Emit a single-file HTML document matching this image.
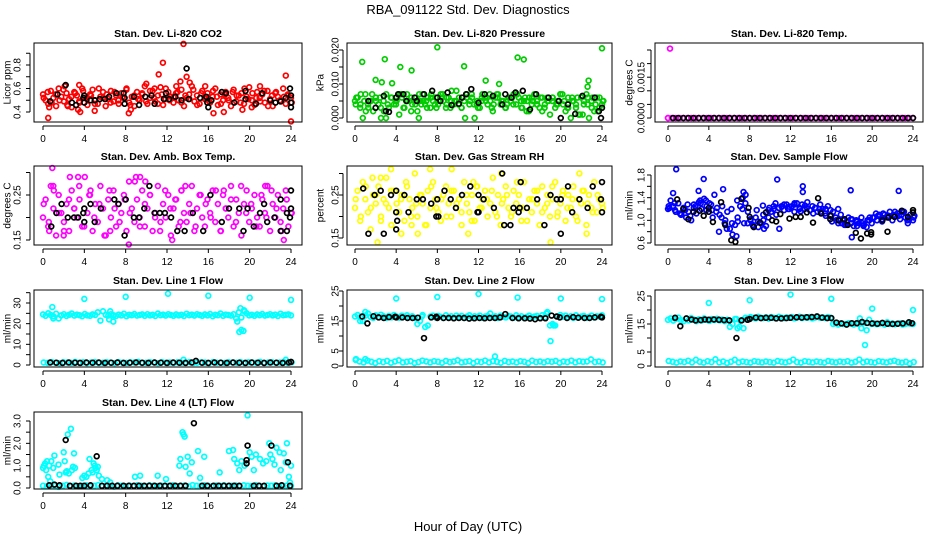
<!DOCTYPE html>
<html><head><meta charset="utf-8">
<style>
html,body{margin:0;padding:0;background:#fff;}
svg{display:block;font-family:"Liberation Sans",Arial,sans-serif;}
</style></head>
<body>
<svg id="chart" width="936" height="540" viewBox="0 0 936 540" xmlns="http://www.w3.org/2000/svg">
<rect width="936" height="540" fill="#fff"/>
<text x="468" y="14" text-anchor="middle" font-size="13">RBA_091122  Std. Dev. Diagnostics</text>
<text x="468" y="531" text-anchor="middle" font-size="13">Hour of Day (UTC)</text>
</svg>
<script>
// ---------- data ----------
const xTicks = [0,4,8,12,16,20,24];

const co2Red = [.55,.50,.47,.58,.52,.45,.60,.53,.49,.56,.51,.44,.57,.54,.48,.60,.52,.46,.55,.59,.50,.47,.53,.57,.45,.51,.58,.49,.54,.47,.56,.52,.60,.48,.53,.45,.57,.50,.55,.62,.47,.52,.58,.49,.54,.61,.46,.51,.57,.53,.48,.56,.50,.59,.45,.52,.55,.62,.49,.54,.47,.58,.51,.56,.48,.53,.60,.46,.55,.50,.57,.52,.45,.59,.49,.54,.56,.47,.53,.61,.50,.46,.57,.52,.55,.48,.58,.51,.45,.56,.53,.49,.60,.47,.54,.52];
const co2Red2 = [.52,.57,.48,.55,.50,.59,.46,.53,.56,.49,.58,.51,.54,.47,.60,.52,.55,.48,.57,.50,.53,.59,.46,.54,.51,.56,.49,.58,.52,.47,.55,.60,.50,.53,.57,.48,.54,.51,.59,.46,.56,.52,.49,.58,.53,.47,.55,.50,.57,.54,.48,.60,.51,.56,.52,.49,.58,.45,.54,.57,.50,.53,.55,.48];
const co2RedExtra = [[0.5,.35],[0.6,.44],[2.1,.62],[3.4,.42],[3.6,.40],[3.5,.63],[5.0,.41],[8.3,.39],[8.5,.42],[10.0,.64],[10.8,.60],[11.2,.72],[11.6,.82],[12.9,.62],[13.3,.66],[13.6,.98],[13.9,.70],[15.7,.62],[14.2,.65],[16.5,.39],[17.5,.40],[19.3,.42],[21.0,.62],[23.5,.71],[24.0,.32],[2.4,.45],[20.2,.44]];
const co2Black = [[0.7,.49],[1.4,.55],[2.2,.63],[2.8,.48],[3.2,.46],[3.9,.52],[4.0,.48],[4.0,.54],[4.6,.50],[5.0,.50],[5.5,.51],[6.0,.51],[6.4,.53],[7.1,.56],[7.8,.56],[7.9,.52],[7.9,.47],[8.8,.53],[9.3,.46],[9.9,.53],[10.5,.54],[10.8,.47],[11.7,.51],[11.9,.56],[12.2,.51],[12.8,.53],[13.4,.50],[13.9,.77],[14.1,.51],[15.2,.52],[15.8,.53],[15.9,.48],[16.0,.44],[16.3,.50],[17.3,.57],[17.7,.56],[18.5,.48],[19.6,.58],[19.6,.51],[20.6,.47],[21.2,.56],[22.0,.50],[22.5,.48],[23.0,.49],[23.5,.52],[23.9,.60],[24.0,.54],[24.0,.48],[24.0,.44]];

// pressure in units of 0.001 kPa
const presGreen = [5,6,3,0,7,4,5,2,6,4,0,5,7,3,6,4,5,1,6,3,7,5,4,6,2,5,7,4,6,3,5,6,4,7,5,3,6,5,4,8,6,3,5,7,4,6,0,5,3,7,6,4,5,2,6,7,4,5,3,6,5,7,4,6,3,5,2,6,4,7,5,3,6,4,5,1,6,3,5,7,4,2,6,0,5,3,1,6,4,7,0,5,2,6,3,4];
const presGreen2 = [4,7,2,5,6,3,0,6,4,7,5,2,6,4,5,7,3,6,4,8,5,3,6,7,4,5,6,3,7,5,4,6,7,3,5,6,4,2,6,5,4,7,3,5,6,1,4,6,2,5];
const presGreen3 = [6,4,5,3,7,5,6,2,4,6,5,7,3,5,6,4,7,5,3,6,4,5,7,6,3,5,4,6,7,5,4,3,6,5,7,4,6,5,3,6,4,7,5,6,2,5,4,6,3,5,6,4,7,5,3,6,4,1,5,6,3,4,6,5];
const presGreenExtra = [[0.7,16.5],[2.0,11.2],[2.9,17.3],[2.6,10.5],[4.4,15.0],[5.5,14.0],[3.6,10.2],[8.0,20.8],[10.6,15.2],[12.7,11.0],[14.0,10.0],[15.8,17.8],[16.4,17.2],[22.6,9.2],[22.7,11.0],[24.0,20.5],[6.2,0],[10.7,0]];
const presBlack = [[1.3,5],[2.0,3],[2.8,6.5],[3.3,1.8],[3.0,2],[4.0,6],[4.2,7],[4.7,7],[5.0,5],[5.8,6],[6.0,5],[6.7,7],[7.5,8],[8.0,6],[8.3,5],[9.0,7.5],[9.4,3.8],[10.1,4.2],[10.4,6],[10.8,7],[11.3,8.5],[12.0,4.5],[12.6,7],[13.4,6.5],[14.3,4],[14.6,7],[15.2,6],[15.6,7.5],[16.3,8],[17.0,2.5],[17.6,7],[18.8,6],[19.8,5],[20.0,0],[20.7,4],[21.4,1.2],[22.1,6.5],[23.3,6],[23.7,2],[23.9,0],[24.0,3]];

// Li-820 temp in units of 0.0001 C
const tempMag = [0,0,0,0,0,0,0,0,0,0,0,0,0,0,0,0,0,0,0,0,0,0,0,0,0,0,0,0,0,0,0,0,0,0,0,0,0,0,0,0,0,0,0,0,0,0,0,0,0,0,0,0,0,0,0,0,0,0,0,0,0,0,0,0];
const tempMagExtra = [[0.2,25.5],[0.0,0]];
const tempBlack = [[0.5,0],[1.0,0],[1.5,0],[2.0,0],[2.5,0],[3.0,0],[3.5,0],[4.0,0],[4.5,0],[5.0,0],[5.5,0],[6.0,0],[6.5,0],[7.0,0],[7.5,0],[8.0,0],[8.5,0],[9.0,0],[9.5,0],[10.0,0],[10.5,0],[11.0,0],[11.5,0],[12.0,0],[12.5,0],[13.0,0],[13.5,0],[14.0,0],[14.5,0],[15.0,0],[15.5,0],[16.0,0],[16.5,0],[17.0,0],[17.5,0],[18.0,0],[18.5,0],[19.0,0],[19.5,0],[20.0,0],[20.5,0],[21.0,0],[21.5,0],[22.0,0],[22.5,0],[23.0,0],[23.5,0],[24.0,0]];

const boxMag = [.20,.24,.18,.27,.22,.16,.25,.21,.19,.23,.17,.26,.22,.20,.24,.18,.29,.21,.25,.17,.23,.19,.27,.22,.16,.24,.20,.26,.18,.23,.21,.25,.17,.28,.22,.19,.24,.20,.26,.18,.22,.25,.17,.21,.27,.19,.23,.20,.25,.16,.22,.24,.18,.26,.21,.19,.23,.27,.17,.22,.25,.20,.18,.24,.21,.26,.19,.23,.17,.25,.22,.20,.27,.18,.24,.21,.16,.23,.26,.19,.22,.25,.20,.18,.24,.21,.27,.17,.23,.20,.25,.19,.22,.26,.18,.21];
const boxMag2 = [.23,.19,.26,.21,.17,.24,.22,.27,.18,.25,.20,.23,.16,.26,.22,.19,.24,.21,.28,.18,.23,.25,.20,.17,.26,.22,.24,.19,.27,.21,.18,.25,.23,.20,.26,.17,.22,.24,.19,.27,.21,.23,.18,.25,.20,.26,.22,.17,.24,.21];
const boxMagExtra = [[0.9,.31],[1.0,.27],[2.6,.29],[3.4,.29],[4.6,.26],[9.0,.29],[9.4,.29],[9.9,.28],[13.4,.26],[17.5,.26],[21.5,.27],[23.3,.15],[8.3,.14],[12.5,.15],[0.6,.17],[2.0,.16],[6.5,.17]];
const boxBlack = [[0.8,.18],[1.3,.21],[1.8,.23],[2.4,.20],[3.0,.20],[3.4,.20],[3.9,.21],[4.0,.22],[4.0,.19],[4.6,.23],[5.0,.19],[5.6,.22],[6.9,.24],[7.3,.23],[8.0,.24],[7.9,.16],[8.8,.20],[9.3,.20],[9.8,.22],[10.3,.27],[10.8,.21],[11.3,.21],[11.8,.21],[12.4,.20],[13.0,.17],[13.7,.17],[14.5,.21],[15.5,.17],[16.2,.25],[17.3,.19],[18.0,.22],[19.0,.22],[19.4,.17],[19.8,.22],[20.4,.18],[21.0,.21],[21.4,.23],[21.7,.19],[22.4,.20],[23.0,.17],[23.0,.24],[23.6,.21],[23.6,.17],[24.0,.26],[24.0,.22],[23.9,.20]];

const rhYel = [.22,.26,.19,.28,.24,.21,.17,.25,.23,.27,.20,.24,.29,.22,.18,.26,.23,.21,.25,.19,.27,.24,.22,.30,.20,.25,.23,.18,.26,.22,.28,.24,.21,.19,.25,.27,.23,.20,.26,.22,.24,.18,.28,.23,.21,.25,.19,.27,.22,.24,.26,.20,.23,.29,.21,.25,.18,.24,.27,.22,.20,.26,.23,.25,.19,.28,.22,.24,.21,.26,.23,.18,.27,.22,.25,.20,.24,.28,.21,.23,.26,.19,.25,.22,.27,.20,.24,.23,.26,.18,.25,.22,.28,.21,.24,.23];
const rhYel2 = [.24,.20,.27,.22,.25,.19,.23,.26,.21,.24,.28,.20,.23,.25,.18,.27,.22,.24,.20,.26,.23,.21,.25,.19,.27,.22,.24,.26,.20,.23,.25,.21,.28,.22,.19,.24,.26,.21,.23,.27,.20,.25,.22,.24,.19,.26,.23,.21,.25,.22];
const rhYelExtra = [[1.7,.29],[2.5,.29],[3.5,.31],[7.3,.31],[9.4,.31],[11.5,.28],[14.2,.30],[21.8,.30],[2.2,.14],[4.5,.16],[11.0,.16],[19.0,.14],[22.5,.16],[6.1,.16],[5.5,.18]];
const rhBlack = [[0.8,.265],[1.3,.16],[1.9,.25],[2.5,.26],[2.8,.16],[3.5,.25],[4.0,.26],[4.0,.21],[4.1,.19],[4.0,.17],[4.8,.25],[5.2,.21],[6.0,.24],[6.6,.24],[7.4,.23],[7.9,.20],[8.0,.24],[8.1,.20],[8.7,.26],[9.3,.24],[9.8,.22],[10.4,.25],[11.2,.27],[11.9,.21],[12.0,.25],[12.0,.21],[12.5,.24],[13.5,.22],[14.3,.30],[14.5,.18],[15.1,.18],[15.4,.22],[15.9,.21],[16.1,.28],[16.0,.22],[16.7,.22],[17.7,.24],[18.4,.18],[19.0,.25],[19.6,.24],[20.0,.24],[20.0,.16],[20.7,.27],[21.1,.21],[21.8,.24],[22.6,.22],[23.1,.27],[23.9,.24],[24.0,.21],[24.0,.28]];

const flowBlue = [1.20,1.35,1.25,1.15,1.30,1.10,1.22,1.05,1.15,1.00,1.28,1.12,1.32,1.20,1.38,1.25,1.30,1.18,1.45,1.22,1.10,1.25,0.95,1.15,0.85,0.75,0.92,1.05,1.25,1.40,1.30,1.15,1.00,0.90,1.05,0.88,0.95,1.00,0.90,1.05,1.15,1.20,1.10,1.22,1.25,1.18,1.28,1.20,1.25,1.15,1.30,1.22,1.28,1.20,1.32,1.18,1.25,1.22,1.15,1.28,1.20,1.12,1.25,1.18,1.15,1.05,1.20,1.10,1.00,0.92,1.05,0.95,0.90,1.00,0.95,1.05,0.92,0.88,1.00,0.95,1.05,1.00,1.10,0.98,1.10,1.05,1.15,1.00,1.08,1.12,1.02,1.15,1.05,0.95,1.10,1.00];
const flowBlue2 = [1.25,1.18,1.10,1.28,1.22,1.35,1.18,1.05,0.80,1.00,1.20,0.98,0.95,1.02,1.18,1.26,1.22,1.30,1.24,1.20,1.28,1.16,1.22,1.12,1.20,1.08,0.98,0.95,0.92,1.02,0.98,0.90,1.05,1.12,1.02,1.08,1.15,1.10,1.00,1.05];
const flowBlue3 = [1.22,1.30,1.12,1.18,1.08,1.25,1.30,1.35,1.28,1.15,1.05,0.85,0.95,1.35,1.20,0.95,0.92,0.98,1.10,1.18,1.25,1.22,1.28,1.24,1.30,1.20,1.26,1.18,1.22,1.15,1.20,1.08,1.00,0.95,0.98,1.02,0.90,0.95,1.00,1.05,1.08,1.12,1.05,1.10,1.08,1.15,1.02,1.08];
const flowBlueExtra = [[0.8,1.9],[3.5,1.73],[5.4,1.55],[7.4,1.5],[10.7,1.72],[13.2,1.6],[13.2,1.5],[17.9,1.53],[22.6,1.52],[6.7,0.72],[18.0,0.70],[9.4,0.85],[10.9,0.85],[0.5,1.48],[3.0,1.52],[7.6,1.45]];
const flowBlack = [[0.9,1.37],[1.5,1.2],[2.0,1.02],[2.5,1.15],[3.1,1.17],[3.5,1.08],[4.0,1.22],[4.0,1.15],[4.4,0.97],[5.2,1.32],[5.6,0.92],[6.2,0.65],[6.6,0.62],[7.2,1.38],[7.9,1.22],[8.0,1.06],[8.4,0.88],[9.0,0.96],[9.6,1.14],[10.2,1.0],[10.6,0.98],[11.0,1.11],[11.9,1.03],[12.5,1.06],[13.0,1.06],[13.6,1.14],[14.2,0.96],[14.7,1.39],[15.0,1.12],[15.9,1.08],[15.9,1.02],[16.7,1.0],[17.3,1.02],[17.6,0.92],[18.4,0.78],[18.9,0.68],[19.5,0.77],[19.9,0.79],[19.9,0.75],[21.0,1.0],[21.6,1.05],[21.5,0.8],[22.2,1.06],[22.9,1.17],[23.5,1.06],[24.0,1.18],[24.0,1.14]];

const line1Hi = [24.5,23.8,25.0,24.2,23.5,24.8,22.5,24.0,24.6,23.7,24.3,24.9,23.9,24.4,24.1,23.6,24.7,24.0,23.8,24.5,24.2,25.5,21.5,26.0,24.3,23.9,24.6,24.1,23.7,24.4,24.0,24.8,23.6,24.3,24.1,24.7,23.9,24.2,24.5,23.8,24.6,24.0,24.3,23.7,24.9,24.1,24.4,23.9,24.6,24.2,23.8,24.5,24.0,24.3,23.7,24.8,24.1,24.4,23.9,24.6,24.2,23.8,24.5,24.0,24.7,23.6,24.3,24.1,24.9,23.8,24.4,24.2,23.9,24.6,22.5,25.5,23.0,26.5,25.0,24.0,24.3,23.8,24.5,24.1,24.7,23.9,24.2,24.6,24.0,24.4,23.7,24.8,24.1,24.3,24.5,24.0];
const line1Lo = [1.2,1.0,1.4,1.1,0.9,1.3,1.2,1.0,1.5,1.1,1.3,0.9,1.2,1.4,1.0,1.1,1.3,1.2,0.9,1.4,1.1,1.0,1.3,1.2,1.5,1.0,1.1,1.3,1.2,0.9,1.4,1.1,1.2,1.0,1.3,1.1,1.2,1.4,1.0,1.1,1.3,1.2,0.9,1.4,1.1,1.2,1.0,1.3,1.2,1.1,1.4,1.0,1.3,1.2,1.1,1.5,1.0,1.2,1.3,1.1,1.2,1.4,1.0,1.3];
const line1Extra = [[0.9,28],[1.0,22.5],[4.0,32],[6.5,26],[6.4,22],[6.8,21],[8.0,33],[12.1,34.5],[16.0,33.5],[18.8,21],[19.1,27.5],[19.5,26],[19.0,16],[19.2,17],[19.4,16.5],[20.0,32.5],[24.0,31.5],[13.6,2.5],[23.5,2.5]];
const line1Black = [[0.7,1.2],[1.3,1.1],[1.9,1.0],[2.5,1.2],[3.1,1.1],[3.6,1.0],[4.2,1.2],[4.8,1.1],[5.4,1.2],[6.0,1.0],[6.6,1.1],[7.2,1.2],[7.8,1.0],[8.4,1.1],[9.0,1.2],[9.6,1.1],[10.2,1.0],[10.8,1.2],[11.4,1.1],[12.0,1.0],[12.6,1.2],[13.2,1.1],[13.8,1.0],[14.4,1.2],[14.8,2.0],[15.4,1.1],[16.0,1.0],[16.6,1.2],[17.2,1.1],[17.8,1.0],[18.4,1.2],[19.0,1.1],[19.6,1.0],[20.2,1.2],[20.8,1.1],[21.4,1.0],[22.0,1.2],[22.6,1.1],[23.2,1.0],[23.8,1.2],[24.0,1.5]];

const line2Hi = [16.5,17.0,16.2,15.0,16.8,17.5,16.4,16.0,16.9,16.3,17.1,16.6,16.0,16.7,16.2,17.0,16.5,16.1,16.8,16.4,16.9,16.3,16.6,16.0,14.0,15.0,17.0,13.0,13.5,16.5,16.8,16.2,16.7,16.4,16.0,16.9,16.3,16.6,16.1,16.8,16.4,16.7,16.0,16.5,16.9,16.2,16.6,16.4,16.8,16.1,16.5,16.7,17.5,16.3,16.6,16.0,16.8,16.4,16.2,16.7,16.5,16.1,16.9,16.3,16.6,16.0,16.4,16.8,16.2,16.5,16.7,16.1,16.9,16.3,18.0,13.5,14.0,13.5,16.5,17.0,16.4,16.8,16.2,16.6,16.0,16.9,16.3,16.5,16.7,16.1,16.4,16.8,16.2,16.6,16.5,16.9];
const line2Lo = [2.0,1.5,1.2,1.8,1.4,1.0,1.6,1.3,1.7,1.1,1.5,1.9,1.2,1.4,1.6,1.0,1.3,1.8,1.5,1.2,1.6,1.4,1.1,1.7,1.3,1.5,1.9,1.2,1.4,1.6,1.0,1.5,1.3,1.8,1.2,1.6,1.4,1.1,1.7,1.3,1.5,1.2,1.6,1.4,1.0,1.8,1.3,1.5,1.2,1.6,1.4,1.7,1.1,1.5,1.3,1.8,1.2,1.6,1.4,1.5,2.2,1.3,1.5,1.2];
const line2Extra = [[4.0,22.5],[8.0,23.0],[12.0,24.0],[13.6,3.2],[15.8,22.8],[19.0,8.3],[20.0,22.5],[24.0,22.3],[1.0,18.0],[0.5,15.0],[6.5,16.5],[18.6,17.5],[19.3,13.5],[0.1,2.3],[1.0,2.3]];
const line2Black = [[0.7,16.5],[1.2,14.2],[1.8,16.6],[2.3,16.2],[2.8,16.0],[3.3,16.3],[3.9,16.4],[4.0,16.2],[4.6,16.2],[5.1,16.0],[5.6,16.0],[6.1,16.1],[6.7,9.3],[7.4,16.2],[7.9,16.4],[8.0,16.0],[8.6,16.0],[9.1,16.0],[9.6,15.9],[10.1,16.0],[10.6,16.0],[11.1,15.8],[11.6,15.9],[12.1,16.0],[12.6,15.9],[13.1,16.0],[13.6,16.0],[14.1,16.2],[14.6,17.3],[15.3,16.0],[15.9,15.9],[16.5,15.9],[17.0,15.8],[17.5,15.6],[18.0,15.9],[18.5,15.9],[19.1,16.8],[19.6,16.5],[19.9,16.2],[20.6,16.0],[21.2,16.3],[21.7,16.1],[22.3,16.0],[22.8,16.0],[23.3,16.2],[23.9,16.4],[24.0,16.2]];

const line3Hi = [16.5,17.0,16.2,16.8,17.3,16.4,16.0,16.9,16.3,17.1,16.6,16.0,16.7,16.2,17.0,16.5,16.1,16.8,16.4,16.9,16.3,16.6,16.0,16.5,14.0,15.0,16.8,13.5,16.2,16.5,17.2,17.0,17.5,17.2,17.0,17.6,17.3,17.1,17.4,16.9,17.5,17.2,17.0,17.6,17.3,17.1,17.4,17.2,17.5,17.0,17.3,17.6,17.1,17.4,17.2,17.5,17.0,17.3,17.6,17.2,17.4,17.1,17.5,17.3,15.0,15.3,14.8,15.2,15.0,14.9,15.3,15.1,14.8,15.2,15.0,13.5,15.5,12.8,16.5,15.0,15.2,14.9,15.1,15.3,14.8,15.6,15.0,15.2,14.9,15.1,15.3,14.8,15.0,15.2,15.1,15.0];
const line3Lo = [1.8,1.5,1.2,1.6,1.4,1.9,1.3,2.2,1.5,1.2,1.7,1.4,2.4,1.3,1.6,1.1,1.5,2.2,1.3,1.6,1.4,1.2,1.7,1.5,1.3,1.6,1.4,1.2,1.8,1.5,1.3,1.6,2.3,1.4,1.2,1.7,1.5,1.3,1.6,1.4,1.2,1.8,1.5,1.3,1.6,1.4,1.7,1.2,1.5,2.3,1.3,1.6,1.4,1.2,1.7,1.5,1.3,1.6,1.9,1.4,1.2,1.5,0.9,1.4];
const line3Extra = [[4.0,22.5],[8.0,23.5],[12.0,25.5],[16.0,24.0],[20.0,20.5],[24.0,20.0],[19.3,7.5],[7.0,14.0],[7.4,13.5],[18.8,17.0],[6.7,16.8]];
const line3Black = [[0.7,17.2],[1.2,14.2],[1.8,17.0],[2.3,16.6],[2.7,16.3],[3.2,16.4],[3.6,16.6],[4.0,16.5],[4.5,16.6],[5.0,16.5],[5.5,16.4],[6.0,16.3],[6.7,10.0],[7.2,16.3],[7.8,16.5],[8.0,16.8],[8.6,17.3],[9.1,17.1],[9.6,17.2],[10.1,17.2],[10.6,17.0],[11.1,17.0],[11.6,17.1],[12.0,17.2],[12.6,17.4],[13.1,17.3],[13.6,17.4],[14.1,17.5],[14.6,17.7],[15.1,17.3],[15.6,17.1],[16.0,17.1],[16.5,15.5],[17.0,15.2],[17.5,14.8],[18.0,15.3],[18.5,15.3],[19.0,15.7],[19.5,15.4],[20.0,15.2],[20.5,15.1],[21.0,15.4],[21.5,15.1],[22.0,15.0],[22.5,15.1],[23.0,15.2],[23.6,15.6],[23.9,15.3]];

const line4Band = [0.10,0.08,0.12,0.10,0.05,0.10,0.14,0.09,0.11,0.07,0.10,0.12,0.08,0.10,0.13,0.09,0.11,0.10,0.06,0.12,0.10,0.08,0.11,0.09,0.13,0.10,0.07,0.12,0.10,0.09,0.11,0.08,0.10,0.12,0.09,0.10,0.11,0.07,0.13,0.10,0.09,0.12,0.10,0.08,0.11,0.10,0.12,0.09,0.10,0.11,0.08,0.12,0.10,0.09,0.13,0.10,0.08,0.11,0.10,0.12,0.09,0.10,0.11,0.10];
const line4Cyan = [[0.0,0.9],[0.1,1.0],[0.2,1.1],[0.3,0.8],[0.4,1.2],[0.5,0.5],[0.6,1.0],[0.7,0.3],[0.8,1.2],[1.0,0.9],[1.1,1.45],[1.5,1.05],[1.6,0.6],[2.0,1.6],[2.1,1.2],[2.2,0.7],[2.3,0.75],[2.4,2.4],[2.5,0.65],[2.7,2.65],[2.8,0.8],[2.9,0.95],[3.0,1.55],[3.1,0.9],[3.8,0.45],[4.0,0.55],[4.2,0.5],[4.4,0.65],[4.5,1.3],[4.7,0.8],[4.8,0.7],[4.9,1.1],[5.0,1.0],[5.1,0.9],[5.2,0.8],[5.3,0.95],[5.4,0.55],[5.7,0.4],[6.2,0.35],[6.5,0.25],[8.9,0.5],[9.4,0.55],[11.1,0.55],[11.9,0.4],[13.2,1.0],[13.3,1.3],[13.5,2.5],[13.6,2.4],[13.7,2.3],[13.8,0.95],[14.0,1.4],[14.2,0.65],[14.4,1.15],[15.0,1.65],[15.2,0.45],[15.6,1.4],[17.1,0.7],[18.0,1.65],[18.4,1.7],[18.5,1.3],[18.8,1.1],[19.0,0.8],[19.2,1.2],[19.5,1.0],[19.8,3.25],[20.0,1.6],[20.2,1.4],[20.4,0.8],[20.6,1.5],[21.0,1.3],[21.3,1.1],[21.6,1.2],[21.9,2.0],[22.0,1.5],[22.2,1.3],[22.4,1.05],[22.6,1.8],[22.9,1.6],[23.0,0.8],[23.3,1.55],[23.5,1.15],[23.6,2.0],[23.8,0.5],[23.9,0.25],[24.0,1.0]];
const line4Black = [[0.6,0.12],[1.1,0.15],[1.6,0.12],[2.2,2.15],[2.6,0.1],[3.2,0.1],[3.6,0.1],[4.0,0.1],[4.6,0.12],[5.2,1.42],[5.7,0.1],[6.2,0.1],[6.7,0.1],[7.2,0.1],[7.8,0.1],[8.3,0.1],[8.8,0.1],[9.3,0.1],[9.8,0.1],[10.3,0.1],[10.8,0.1],[11.3,0.1],[11.8,0.1],[12.3,0.1],[12.8,0.1],[13.3,0.1],[13.8,0.1],[14.6,2.9],[15.4,0.1],[15.9,0.1],[16.5,0.1],[17.0,0.1],[17.5,0.1],[18.0,0.1],[18.5,0.1],[19.0,0.1],[19.7,1.25],[19.7,1.1],[19.8,1.9],[20.4,0.1],[20.9,0.1],[21.4,0.1],[22.1,1.9],[22.6,0.1],[23.1,0.12],[23.7,1.15],[23.9,0.1]];

// ---------- layout ----------
const svg = document.getElementById('chart');
const NS = 'http://www.w3.org/2000/svg';
function mk(tag, attrs, parent){const e=document.createElementNS(NS,tag);for(const k in attrs)e.setAttribute(k,attrs[k]);(parent||svg).appendChild(e);return e;}

const cols = [
  {bx0:34, bx1:302, x0:43, x24:291, lab:18, ttl:8},
  {bx0:347, bx1:612, x0:355, x24:602, lab:336, ttl:321},
  {bx0:655, bx1:923, x0:668, x24:913, lab:642, ttl:630}
];
const rows = [{by0:43,by1:122},{by0:166,by1:245},{by0:290,by1:367},{by0:412,by1:489}];

function evenHours(n){const h=[];for(let i=0;i<n;i++)h.push(i*24/(n-1));return h;}

const panels = [
  {name:'co2', title:'Stan. Dev. Li-820 CO2', ylab:'Licor ppm', c:0, r:0, cal:[0.4,112,0.8,65], ticks:[.4,.5,.6,.7,.8,.9], labels:[[.4,'0.4'],[.6,'0.6'],[.8,'0.8']],
   color:'#ff0000', even:[co2Red,co2Red2], extra:[co2RedExtra], black:co2Black},
  {name:'pressure', title:'Stan. Dev. Li-820 Pressure', ylab:'kPa', c:1, r:0, cal:[0,118,20,50], ticks:[0,5,10,15,20], labels:[[0,'0.000'],[10,'0.010'],[20,'0.020']],
   color:'#00cc00', even:[presGreen,presGreen2,presGreen3], extra:[presGreenExtra], black:presBlack},
  {name:'li820-temp', title:'Stan. Dev. Li-820 Temp.', ylab:'degrees C', c:2, r:0, cal:[0,118,25,50], ticks:[0,5,10,15,20,25], labels:[[0,'0.0000'],[15,'0.0015']],
   color:'#ff00ff', even:[tempMag], extra:[tempMagExtra], black:tempBlack},
  {name:'amb-box-temp', title:'Stan. Dev. Amb. Box Temp.', ylab:'degrees C', c:0, r:1, cal:[0.15,240,0.25,195], ticks:[.15,.20,.25,.30], labels:[[.15,'0.15'],[.25,'0.25']],
   color:'#ff00ff', even:[boxMag,boxMag2], extra:[boxMagExtra], black:boxBlack},
  {name:'gas-stream-rh', title:'Stan. Dev. Gas Stream RH', ylab:'percent', c:1, r:1, cal:[0.15,238,0.25,195], ticks:[.15,.20,.25,.30], labels:[[.15,'0.15'],[.25,'0.25']],
   color:'#ffff00', even:[rhYel,rhYel2], extra:[rhYelExtra], black:rhBlack},
  {name:'sample-flow', title:'Stan. Dev. Sample Flow', ylab:'ml/min', c:2, r:1, cal:[0.6,243,1.8,175], ticks:[.6,.8,1.0,1.2,1.4,1.6,1.8], labels:[[.6,'0.6'],[1.0,'1.0'],[1.4,'1.4'],[1.8,'1.8']],
   color:'#0000ff', even:[flowBlue,flowBlue2,flowBlue3], extra:[flowBlueExtra], black:flowBlack},
  {name:'line1-flow', title:'Stan. Dev. Line 1 Flow', ylab:'ml/min', c:0, r:2, cal:[0,365,30,303], ticks:[0,5,10,15,20,25,30,35], labels:[[0,'0'],[10,'10'],[20,'20'],[30,'30']],
   color:'#00ffff', even:[line1Hi,line1Lo], extra:[line1Extra], black:line1Black},
  {name:'line2-flow', title:'Stan. Dev. Line 2 Flow', ylab:'ml/min', c:1, r:2, cal:[0,366,25,291], ticks:[0,5,10,15,20,25], labels:[[0,'0'],[5,'5'],[15,'15'],[25,'25']],
   color:'#00ffff', even:[line2Hi,line2Lo], extra:[line2Extra], black:line2Black},
  {name:'line3-flow', title:'Stan. Dev. Line 3 Flow', ylab:'ml/min', c:2, r:2, cal:[0,366,25,296], ticks:[0,5,10,15,20,25], labels:[[0,'0'],[5,'5'],[15,'15'],[25,'25']],
   color:'#00ffff', even:[line3Hi,line3Lo], extra:[line3Extra], black:line3Black},
  {name:'line4-flow', title:'Stan. Dev. Line 4 (LT) Flow', ylab:'ml/min', c:0, r:3, cal:[0,488,3,421], ticks:[0,.5,1,1.5,2,2.5,3], labels:[[0,'0.0'],[1,'1.0'],[2,'2.0'],[3,'3.0']],
   color:'#00ffff', even:[line4Band], extra:[line4Cyan], black:line4Black}
];

panels.forEach(p=>{
  const C=cols[p.c], R=rows[p.r];
  const g = mk('g',{});
  
  
  const xs = h => C.x0 + (C.x24-C.x0)*h/24;
  const ys = v => p.cal[1] + (p.cal[3]-p.cal[1])*(v-p.cal[0])/(p.cal[2]-p.cal[0]);
  const cx = (C.bx0+C.bx1)/2;
  const t = mk('text',{x:cx,y:R.by0-6,'text-anchor':'middle','font-size':'10.5','font-weight':'bold'},g);
  t.textContent=p.title;
  
  
  const yc=(R.by0+R.by1)/2;
  const yt = mk('text',{x:C.ttl,y:yc,'text-anchor':'middle','dominant-baseline':'central','font-size':'10',transform:`rotate(-90 ${C.ttl} ${yc})`},g);
  yt.textContent=p.ylab;
  
  
  const pts = mk('g',{fill:'none','stroke-width':'1.7'},g);
  
  
  const dot=(h,v,col)=>{const c=mk('circle',{cx:xs(h).toFixed(1),cy:ys(v).toFixed(1),r:2.4,stroke:col},pts);
    
    };
  p.even.forEach((arr,k)=>{const hs=evenHours(arr.length);arr.forEach((v,i)=>dot(hs[i]+k*0.07,v,p.color));});
  p.extra.forEach(arr=>arr.forEach(d=>dot(d[0],d[1],p.color)));
  p.black.forEach(d=>dot(d[0],d[1],'#000'));
  const b = mk('rect',{x:C.bx0,y:R.by0,width:C.bx1-C.bx0,height:R.by1-R.by0,fill:'none',stroke:'#000','stroke-width':'1'},g);
  
  
  const xa = mk('g',{},g);
  
  
  xTicks.forEach(h=>{
    mk('line',{x1:xs(h),x2:xs(h),y1:R.by1+4,y2:R.by1+8,stroke:'#000'},xa);
    const tl=mk('text',{x:xs(h),y:R.by1+20,'text-anchor':'middle','font-size':'10'},xa);
    tl.textContent=h;
    
    
  });
  mk('line',{x1:xs(0),x2:xs(24),y1:R.by1+4,y2:R.by1+4,stroke:'#000'},xa);
  const ya = mk('g',{},g);
  
  
  const tv=p.ticks;
  tv.forEach(v=>mk('line',{x1:C.bx0-4,x2:C.bx0-8,y1:ys(v),y2:ys(v),stroke:'#000'},ya));
  mk('line',{x1:C.bx0-4,x2:C.bx0-4,y1:ys(tv[0]),y2:ys(tv[tv.length-1]),stroke:'#000'},ya);
  p.labels.forEach(([v,s])=>{
    const yy=ys(v);
    const tl=mk('text',{x:C.lab,y:yy,'text-anchor':'middle','dominant-baseline':'central','font-size':'10',transform:`rotate(-90 ${C.lab} ${yy})`},ya);
    tl.textContent=s;
    
    
  });
});
</script>
</body></html>
